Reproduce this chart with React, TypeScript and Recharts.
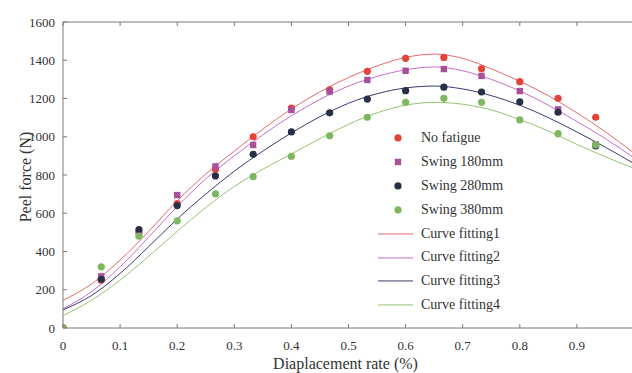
import React from 'react';
import { ComposedChart, XAxis, YAxis, Scatter, Line, Legend, Label } from 'recharts';

// ---- data ----
const xPoints = [0, 0.067, 0.133, 0.2, 0.267, 0.333, 0.4, 0.467, 0.533, 0.6, 0.667, 0.733, 0.8, 0.867, 0.933];
const noFatigue = [0, 250, 500, 650, 830, 1000, 1150, 1245, 1342, 1410, 1415, 1355, 1288, 1201, 1102];
const swing180 = [0, 270, 495, 695, 845, 957, 1140, 1236, 1297, 1345, 1354, 1318, 1239, 1143, 960];
const swing280 = [0, 255, 515, 640, 795, 908, 1025, 1125, 1197, 1241, 1259, 1234, 1182, 1128, 952];
const swing380 = [0, 320, 480, 560, 701, 791, 898, 1005, 1102, 1180, 1201, 1180, 1088, 1016, 957];

const xCurve = [0, 0.05, 0.1, 0.15, 0.2, 0.25, 0.3, 0.35, 0.4, 0.45, 0.5, 0.55, 0.6, 0.65, 0.7, 0.75, 0.8, 0.85, 0.9, 0.95, 1.0];
const fit1 = [145, 230, 355, 505, 665, 805, 925, 1040, 1145, 1235, 1310, 1370, 1415, 1432, 1410, 1355, 1290, 1215, 1125, 1025, 915];
const fit2 = [100, 190, 320, 475, 635, 780, 900, 1010, 1110, 1195, 1265, 1315, 1350, 1365, 1345, 1300, 1240, 1165, 1080, 990, 890];
const fit3 = [95, 170, 285, 425, 570, 700, 820, 925, 1020, 1105, 1175, 1225, 1255, 1265, 1250, 1215, 1165, 1100, 1025, 945, 860];
const fit4 = [65, 145, 250, 375, 505, 630, 740, 830, 910, 990, 1065, 1125, 1165, 1180, 1170, 1140, 1090, 1030, 960, 895, 835];

const xTicks = [0, 0.1, 0.2, 0.3, 0.4, 0.5, 0.6, 0.7, 0.8, 0.9];
const xTickLabels = ['0', '0.1', '0.2', '0.3', '0.4', '0.5', '0.6', '0.7', '0.8', '0.9'];
const yTicks = [0, 200, 400, 600, 800, 1000, 1200, 1400, 1600];
const yTickLabels = ['0', '200', '400', '600', '800', '1000', '1200', '1400', '1600'];

const pointNames = ['No fatigue', 'Swing 180mm', 'Swing 280mm', 'Swing 380mm'];
const curveNames = ['Curve fitting1', 'Curve fitting2', 'Curve fitting3', 'Curve fitting4'];
const pointColors = ['#e4433a', '#a8509c', '#283048', '#7db85e'];
const curveColors = ['#e66a6a', '#c46fcc', '#3a3a6e', '#94c672'];
const pointShapes = ['circle', 'square', 'circle', 'circle'];

const FONT = '"Liberation Serif", "Times New Roman", serif';
const AXIS = '#7a7a7a';
const TEXT = '#333';

const toPts = (xs: number[], ys: number[]) => xs.map((x, i) => ({ x, y: ys[i] }));
const pointSeries = [noFatigue, swing180, swing280, swing380].map((ys) => toPts(xPoints, ys));
const curveSeries = [fit1, fit2, fit3, fit4].map((ys) => toPts(xCurve, ys));

const Marker = ({ cx, cy, shape, color }: any) => {
  if (cx == null || cy == null) return null;
  if (shape === 'square') return <rect x={cx - 3.2} y={cy - 3.2} width={6.4} height={6.4} fill={color} />;
  return <circle cx={cx} cy={cy} r={3.6} fill={color} />;
};

const BottomTick = (props: any) => {
  const { x, y, payload } = props;
  const idx = xTicks.indexOf(payload.value);
  return (
    <g>
      <line x1={x} y1={y} x2={x} y2={y - 4} stroke={AXIS} />
      <text x={x} y={y + 22} textAnchor="middle" fontSize={13} fontFamily={FONT} fill={TEXT}>
        {idx >= 0 ? xTickLabels[idx] : ''}
      </text>
    </g>
  );
};

const TopTick = (props: any) => {
  const { x, y } = props;
  return <line x1={x} y1={y} x2={x} y2={y + 4} stroke={AXIS} />;
};

const LeftTick = (props: any) => {
  const { x, y, payload } = props;
  const idx = yTicks.indexOf(payload.value);
  return (
    <g>
      <line x1={x} y1={y} x2={x + 4} y2={y} stroke={AXIS} />
      <text x={x - 8} y={y + 4.5} textAnchor="end" fontSize={13} fontFamily={FONT} fill={TEXT}>
        {idx >= 0 ? yTickLabels[idx] : ''}
      </text>
    </g>
  );
};

const renderLegend = () => {
  const rowH = 23.9;
  return (
    <div style={{ position: 'relative', width: 170, height: 8 * rowH, fontFamily: FONT, fontSize: 14, color: TEXT }}>
      {pointNames.map((n, i) => (
        <div key={n} style={{ position: 'absolute', left: 0, top: i * rowH, height: rowH, display: 'flex', alignItems: 'center' }}>
          <svg width={40} height={rowH} style={{ display: 'block' }}>
            <Marker cx={22} cy={rowH / 2} shape={pointShapes[i]} color={pointColors[i]} />
          </svg>
          <span style={{ marginLeft: 5, whiteSpace: 'nowrap' }}>{n}</span>
        </div>
      ))}
      {curveNames.map((n, i) => (
        <div key={n} style={{ position: 'absolute', left: 0, top: (i + 4) * rowH, height: rowH, display: 'flex', alignItems: 'center' }}>
          <svg width={40} height={rowH} style={{ display: 'block' }}>
            <line x1={2} x2={37} y1={rowH / 2} y2={rowH / 2} stroke={curveColors[i]} strokeWidth={1} />
          </svg>
          <span style={{ marginLeft: 5, whiteSpace: 'nowrap' }}>{n}</span>
        </div>
      ))}
    </div>
  );
};

export default function App() {
  return (
    <div style={{ position: 'relative', width: 632, height: 373, overflow: 'hidden', background: '#fff' }}>
      <style>{'body{margin:0}'}</style>
      <ComposedChart width={640} height={373} margin={{ top: 21, right: 6, bottom: 0, left: 0 }}>
        <XAxis
          xAxisId="top"
          orientation="top"
          type="number"
          dataKey="x"
          domain={[0, 1]}
          ticks={xTicks}
          interval={0}
          height={1}
          tickSize={0}
          tickMargin={0}
          tickLine={false}
          axisLine={{ stroke: AXIS }}
          tick={<TopTick />}
          allowDataOverflow
        />
        <XAxis
          type="number"
          dataKey="x"
          domain={[0, 1]}
          ticks={xTicks}
          interval={0}
          height={45}
          tickSize={0}
          tickMargin={0}
          tickLine={false}
          axisLine={{ stroke: AXIS }}
          tick={<BottomTick />}
          allowDataOverflow
        >
          <Label
            content={(p: any) => {
              const vb = p.viewBox || {};
              return (
                <text x={vb.x + vb.width / 2 - 3} y={vb.y + 41} textAnchor="middle" fontSize={16} fontFamily={FONT} fill={TEXT}>
                  Diaplacement rate (%)
                </text>
              );
            }}
          />
        </XAxis>
        <YAxis
          type="number"
          domain={[0, 1600]}
          ticks={yTicks}
          interval={0}
          width={63}
          tickSize={0}
          tickMargin={0}
          tickLine={false}
          axisLine={{ stroke: AXIS }}
          tick={<LeftTick />}
          allowDataOverflow
        >
          <Label
            content={(p: any) => {
              const vb = p.viewBox || {};
              const cx = vb.x + 25;
              const cy = vb.y + vb.height / 2 + 2;
              return (
                <text x={cx} y={cy} transform={`rotate(-90, ${cx}, ${cy})`} textAnchor="middle" dominantBaseline="central" fontSize={16} fontFamily={FONT} fill={TEXT}>
                  Peel force (N)
                </text>
              );
            }}
          />
        </YAxis>
        {curveSeries.map((d, i) => (
          <Line
            key={curveNames[i]}
            data={d}
            dataKey="y"
            type="monotone"
            stroke={curveColors[i]}
            strokeWidth={1}
            dot={false}
            activeDot={false}
            isAnimationActive={false}
            name={curveNames[i]}
          />
        ))}
        {pointSeries.map((d, i) => (
          <Scatter
            key={pointNames[i]}
            data={d}
            dataKey="y"
            name={pointNames[i]}
            isAnimationActive={false}
            shape={(p: any) => <Marker cx={p.cx} cy={p.cy} shape={pointShapes[i]} color={pointColors[i]} />}
          />
        ))}
        <Legend
          layout="vertical"
          align="center"
          verticalAlign="middle"
          content={renderLegend}
          wrapperStyle={{ left: 376, top: 126, width: 170, height: 192 }}
        />
      </ComposedChart>
    </div>
  );
}
